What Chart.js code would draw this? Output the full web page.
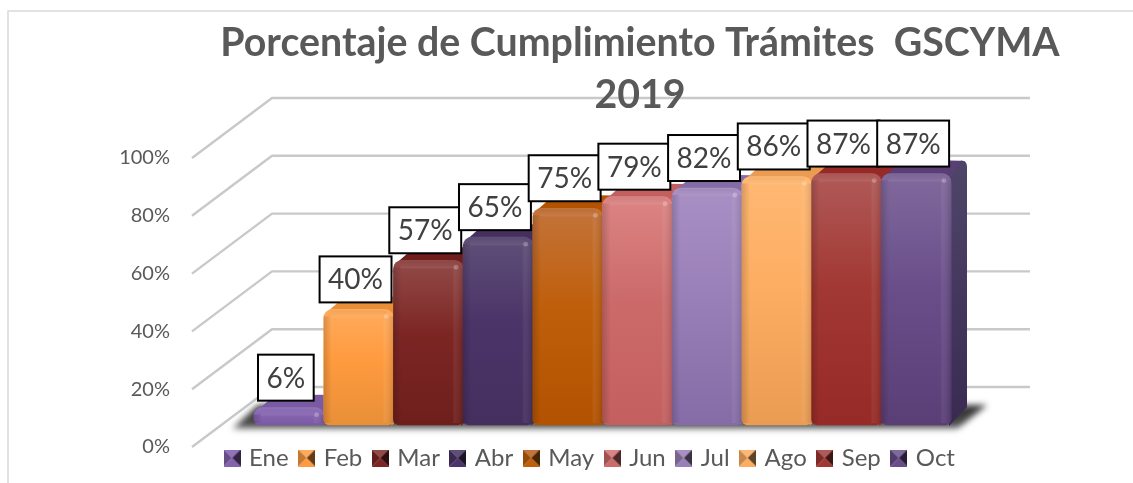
<!DOCTYPE html>
<html><head><meta charset="utf-8">
<style>html,body{margin:0;padding:0;background:#fff;overflow:hidden}#w{position:relative;width:1133px;height:483px}canvas{display:block}</style>
<script src="https://cdn.jsdelivr.net/npm/chart.js@4"></script>
</head><body><div id="w"><canvas id="c" width="1133" height="483"></canvas></div>
<script>
const categories=['Ene','Feb','Mar','Abr','May','Jun','Jul','Ago','Sep','Oct'];
const values=[6,40,57,65,75,79,82,86,87,87];
const tickValues=[0,20,40,60,80,100];
const titleLines=['Porcentaje de Cumplimiento Trámites  GSCYMA','2019'];
const lightColors=['#9173bd','#ffab5c','#924a48','#5f4f78','#c4733a','#dc8484','#a88fc4','#ffb873','#b05a58','#80699c'];
const midColors=['#8463ae','#ff9a3e','#7c2624','#4b3468','#bf5f0c','#cc6a6a','#9a80b8','#fdad62','#a23833','#6a4e8a'];
const darkColors=['#7a5aa3','#e88f38','#6e1f1c','#452f5f','#b35200','#c45f5f','#866ca6','#ea9c52','#962a26','#5a3e76'];
const sideColor=['#4e4468','#3a2a52'];

const LIFT=22, DX=16, DY=13;
const FRONT_X=192, BACK_X=272, GRID_RIGHT=1030, BACK_DY=60;

function swatch(i){
  const s=17,c=document.createElement('canvas');c.width=s;c.height=s;
  const x=c.getContext('2d');
  const tri=(pts,col,shade)=>{x.beginPath();pts.forEach((p,k)=>k?x.lineTo(p[0],p[1]):x.moveTo(p[0],p[1]));x.closePath();x.fillStyle=col;x.fill();if(shade){x.fillStyle='rgba(0,0,0,'+shade+')';x.fill();}};
  const m=[s/2,s/2];
  tri([[0,0],[s,0],m],lightColors[i]);
  tri([[0,0],[0,s],m],midColors[i],.22);
  tri([[s,0],[s,s],m],midColors[i],.62);
  tri([[0,s],[s,s],m],midColors[i]);
  return c;
}
const swatches=categories.map((_,i)=>swatch(i));

const plug={
  id:'look',
  beforeDraw(chart){
    const {ctx,scales:{y}}=chart;
    ctx.save();
    ctx.fillStyle='#fff';ctx.fillRect(0,0,chart.width,chart.height);
    ctx.strokeStyle='#d9d9d9';ctx.lineWidth=1.5;
    ctx.beginPath();ctx.moveTo(8,483);ctx.lineTo(8,11);ctx.lineTo(1133,11);ctx.stroke();
    ctx.strokeStyle='#c9c9c9';ctx.lineWidth=2.4;ctx.lineJoin='round';
    tickValues.forEach(v=>{
      const p=y.getPixelForValue(v);
      ctx.beginPath();ctx.moveTo(FRONT_X,p);ctx.lineTo(BACK_X,p-BACK_DY);ctx.lineTo(GRID_RIGHT,p-BACK_DY);ctx.stroke();
    });
    ctx.restore();
  },
  afterLayout(chart){
    const t=chart.titleBlock;const dt=640-(t.left+t.right)/2;t.left+=dt;t.right+=dt;
    const l=chart.legend;const dl=591-(l.left+l.right)/2;l.left+=dl;l.right+=dl;
    const dy=433-l.top;l.top+=dy;l.bottom+=dy;
  },
  beforeDatasetDraw(chart,args){
    const {ctx}=chart;const bars=args.meta.data;
    const first=bars[0],last=bars[bars.length-1];
    const base=first.base-LIFT;
    const L=first.x-first.width/2,R=last.x+last.width/2;
    ctx.save();
    ctx.save();
    ctx.filter='blur(3px)';
    const g=ctx.createLinearGradient(0,base-24,0,base+5);
    g.addColorStop(0,'#2a2a2a');g.addColorStop(.8,'#4a4a4a');g.addColorStop(1,'#a8a8a8');
    ctx.fillStyle=g;
    ctx.beginPath();ctx.moveTo(L-22,base+4);ctx.lineTo(L+4,base-20);ctx.lineTo(R+36,base-20);ctx.lineTo(R+6,base+4);ctx.closePath();ctx.fill();
    ctx.restore();
    bars.forEach((b,i)=>{
      const l=b.x-b.width/2,r=b.x+b.width/2,top=b.y-LIFT;
      ctx.fillStyle=darkColors[i];
      ctx.beginPath();ctx.moveTo(l+4,top+2);ctx.lineTo(l+DX+4,top-DY+1);ctx.quadraticCurveTo(r+DX-4,top-DY-1,r+DX-2,top-DY+1);ctx.lineTo(r-2,top+4);ctx.closePath();ctx.fill();
      const s=ctx.createLinearGradient(0,top,0,base);
      s.addColorStop(0,i===9?sideColor[0]:darkColors[i]);s.addColorStop(1,i===9?sideColor[1]:darkColors[i]);
      ctx.fillStyle=s;
      ctx.beginPath();
      ctx.moveTo(r-2,top+4);ctx.lineTo(r+DX-6,top-DY);ctx.quadraticCurveTo(r+DX,top-DY,r+DX,top-DY+6);
      ctx.lineTo(r+DX,base-DY-5);ctx.lineTo(r-2,base+1);ctx.closePath();ctx.fill();
    });
    ctx.restore();
    ctx.save();ctx.translate(0,-LIFT);
  },
  afterDatasetDraw(chart,args){
    const {ctx}=chart;
    ctx.restore();
    ctx.save();
    args.meta.data.forEach((b,i)=>{
      const w=b.width,l=b.x-w/2,r=b.x+w/2,t=b.y-LIFT,bt=b.base-LIFT;
      let g=ctx.createLinearGradient(l,0,l+8,0);
      g.addColorStop(0,'rgba(0,0,0,.16)');g.addColorStop(1,'rgba(0,0,0,0)');
      ctx.fillStyle=g;ctx.fillRect(l,t+7,8,bt-t-9);
      g=ctx.createLinearGradient(r-11,0,r,0);
      g.addColorStop(0,'rgba(255,255,255,0)');g.addColorStop(.2,'rgba(255,255,255,.06)');g.addColorStop(1,'rgba(0,0,0,.12)');
      ctx.fillStyle=g;ctx.fillRect(r-11,t+7,11,bt-t-9);
      g=ctx.createLinearGradient(0,t,0,t+9);
      g.addColorStop(0,'rgba(0,0,0,.05)');g.addColorStop(.8,'rgba(255,255,255,.07)');g.addColorStop(1,'rgba(255,255,255,0)');
      ctx.fillStyle=g;ctx.fillRect(l+7,t+1,w-14,9);
      ctx.fillStyle='rgba(255,255,255,.25)';
      ctx.beginPath();ctx.arc(r-7,t+7,2.4,0,Math.PI*2);ctx.fill();
    });
    ctx.restore();
  },
  afterDatasetsDraw(chart){
    const {ctx}=chart;const bars=chart.getDatasetMeta(0).data;
    ctx.save();
    ctx.font='28px Lato';ctx.textAlign='center';ctx.textBaseline='middle';
    bars.forEach((b,i)=>{
      const txt=values[i]+'%';
      const w=ctx.measureText(txt).width+17,h=46,cx=b.x-3,bot=b.y-LIFT-7;
      ctx.fillStyle='#fff';ctx.strokeStyle='#000';ctx.lineWidth=2;
      ctx.fillRect(cx-w/2,bot-h,w,h);ctx.strokeRect(cx-w/2,bot-h,w,h);
      ctx.fillStyle='#404040';ctx.fillText(txt,cx,bot-h/2+1);
    });
    ctx.restore();
  }
};

new Chart(document.getElementById('c'),{
  type:'bar',
  data:{labels:categories,datasets:[{
    data:values,clip:false,
    barPercentage:1,categoryPercentage:1,
    borderRadius:{topLeft:9,topRight:9,bottomLeft:6,bottomRight:6},
    borderSkipped:false,
    backgroundColor(c){
      const ch=c.chart;const i=c.dataIndex;
      if(!ch.chartArea)return midColors[i];
      const y=ch.scales.y;
      const g=ch.ctx.createLinearGradient(0,y.getPixelForValue(values[i]),0,y.getPixelForValue(0));
      g.addColorStop(0,lightColors[i]);g.addColorStop(.45,midColors[i]);g.addColorStop(1,darkColors[i]);
      return g;
    }
  }]},
  options:{
    responsive:false,animation:false,
    layout:{padding:{left:0,right:182,top:0,bottom:-11}},
    plugins:{
      title:{display:true,text:titleLines,color:'#595959',font:{family:'Lato',size:39.3,weight:'bold',lineHeight:52/39.3},padding:{top:17,bottom:37}},
      legend:{display:true,position:'bottom',
        labels:{usePointStyle:true,boxWidth:10,padding:13,color:'#595959',font:{family:'Lato',size:24},
          generateLabels:()=>categories.map((t,i)=>({text:t,pointStyle:swatches[i],fontColor:'#595959',hidden:false,lineWidth:0,strokeStyle:'transparent',fillStyle:midColors[i],index:i}))}},
      tooltip:{enabled:false}
    },
    scales:{
      x:{display:false,offset:true,grid:{display:false}},
      y:{min:0,max:100,afterFit(s){s.width=254;s.paddingTop=0;s.paddingBottom=0;},
        afterBuildTicks(s){s.ticks=tickValues.map(v=>({value:v}));},
        border:{display:false},grid:{display:false,drawTicks:false,tickLength:0},
        ticks:{padding:84,color:'#595959',font:{family:'Lato',size:20},callback:v=>v+'%'}}
    }
  },
  plugins:[plug]
});
</script></body></html>
